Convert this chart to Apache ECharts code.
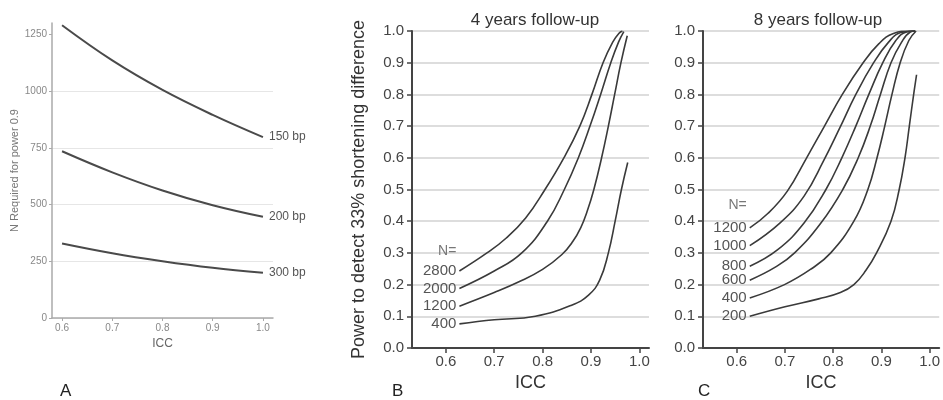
<!DOCTYPE html>
<html><head><meta charset="utf-8">
<script src="https://cdn.jsdelivr.net/npm/echarts@6/dist/echarts.min.js"></script>
<style>html,body{margin:0;padding:0;background:#fff}#c{width:943px;height:400px}</style>
</head><body><div id="c"></div>
<script>
const FONT = "'Liberation Sans', Arial, Helvetica, sans-serif";

// ---------- Panel A data ----------
const iccA = [0.6, 0.7, 0.8, 0.9, 1.0];
const nA150 = [1290, 1135, 1005, 895, 797];
const nA200 = [735, 642, 562, 497, 446];
const nA300 = [328, 285, 250, 221, 199];
const labelsA = ['150 bp', '200 bp', '300 bp'];
const yTicksA = [0, 250, 500, 750, 1000, 1250];
const xTicks = [0.6, 0.7, 0.8, 0.9, 1.0];

// ---------- Panel B data (4 years follow-up) : [ICC, power] ----------
const b2800 = [[0.628,0.243],[0.685,0.30],[0.725,0.347],[0.765,0.41],[0.805,0.50],[0.844,0.60],[0.877,0.70],[0.902,0.80],[0.925,0.90],[0.945,0.965],[0.958,0.993],[0.965,1.0]];
const b2000 = [[0.628,0.188],[0.7,0.243],[0.757,0.30],[0.81,0.40],[0.845,0.50],[0.874,0.60],[0.898,0.70],[0.92,0.80],[0.941,0.90],[0.957,0.965],[0.968,0.998]];
const b1200 = [[0.628,0.132],[0.7,0.175],[0.75,0.208],[0.8,0.248],[0.84,0.295],[0.862,0.335],[0.879,0.38],[0.893,0.435],[0.906,0.50],[0.922,0.60],[0.936,0.70],[0.949,0.80],[0.962,0.90],[0.975,0.985]];
const b400  = [[0.628,0.076],[0.7,0.089],[0.785,0.10],[0.86,0.135],[0.895,0.167],[0.918,0.214],[0.936,0.30],[0.95,0.40],[0.963,0.50],[0.976,0.585]];
const namesB = ['2800', '2000', '1200', '400'];

// ---------- Panel C data (8 years follow-up) ----------
const c1200 = [[0.627,0.379],[0.665,0.425],[0.705,0.495],[0.745,0.60],[0.782,0.70],[0.819,0.80],[0.86,0.895],[0.895,0.96],[0.925,0.992],[0.96,1.0],[0.97,1.0]];
const c1000 = [[0.627,0.323],[0.69,0.395],[0.74,0.48],[0.78,0.59],[0.814,0.695],[0.847,0.80],[0.884,0.90],[0.915,0.965],[0.94,0.995],[0.97,1.0]];
const c800  = [[0.627,0.258],[0.685,0.31],[0.74,0.395],[0.785,0.50],[0.818,0.60],[0.847,0.70],[0.874,0.80],[0.903,0.90],[0.93,0.97],[0.952,0.997],[0.97,1.0]];
const c600  = [[0.627,0.214],[0.68,0.255],[0.72,0.30],[0.775,0.395],[0.82,0.50],[0.852,0.60],[0.877,0.70],[0.898,0.80],[0.92,0.90],[0.942,0.965],[0.96,0.997],[0.97,1.0]];
const c400  = [[0.627,0.158],[0.699,0.20],[0.755,0.25],[0.795,0.30],[0.843,0.40],[0.872,0.50],[0.891,0.60],[0.907,0.70],[0.922,0.80],[0.939,0.90],[0.957,0.97],[0.972,1.0]];
const c200  = [[0.627,0.10],[0.7,0.13],[0.77,0.155],[0.815,0.175],[0.843,0.20],[0.868,0.245],[0.89,0.30],[0.92,0.40],[0.937,0.50],[0.949,0.60],[0.958,0.70],[0.967,0.80],[0.973,0.862]];
const namesC = ['1200', '1000', '800', '600', '400', '200'];

const titlesBC = ['4 years follow-up', '8 years follow-up'];
const panelLetters = ['A', 'B', 'C'];

// ---------- helpers ----------
function curveA(vals, name) {
  return {
    type: 'line', xAxisIndex: 0, yAxisIndex: 0, name: name,
    data: iccA.map((x, i) => [x, vals[i]]),
    smooth: 0.4, showSymbol: false, symbol: 'none',
    lineStyle: { color: '#4a4a4a', width: 2 },
    endLabel: { show: true, formatter: name, color: '#555', fontSize: 12, fontFamily: FONT, distance: 6 },
    silent: true
  };
}
function curveBC(pts, name, idx, first, lh) {
  const data = pts.map((p, i) => {
    if (i === 0) {
      return {
        value: p,
        label: {
          show: true, position: 'left', distance: 3,
          formatter: first ? '{n|N=}\n{v|' + name + '}' : '{v|' + name + '}',
          offset: first ? [0, -lh / 2] : [0, 0],
          align: 'right',
          rich: {
            n: { color: '#777', fontSize: 14, fontFamily: FONT, lineHeight: lh, align: 'right' },
            v: { color: '#555', fontSize: 15, fontFamily: FONT, lineHeight: lh, align: 'right' }
          }
        }
      };
    }
    return { value: p };
  });
  return {
    type: 'line', xAxisIndex: idx, yAxisIndex: idx, name: name,
    data: data, smooth: 0.45,
    symbol: 'circle', symbolSize: 0.1, showSymbol: true,
    label: { show: false },
    lineStyle: { color: '#3a3a3a', width: 1.6 },
    itemStyle: { color: 'rgba(0,0,0,0)' },
    silent: true
  };
}

const xAxisBC = (idx) => ({
  gridIndex: idx, type: 'value', min: 0.53, max: 1.02,
  axisLine: { show: true, onZero: false, lineStyle: { color: '#444', width: 2 } },
  axisTick: { show: true, customValues: xTicks, length: 5, lineStyle: { color: '#444', width: 1.5 } },
  axisLabel: { customValues: xTicks, formatter: v => v.toFixed(1), fontSize: 15, color: '#444', fontFamily: FONT, margin: 6 },
  splitLine: { show: false },
  name: 'ICC', nameLocation: 'middle', nameGap: 24,
  nameTextStyle: { fontSize: 18, color: '#333', fontFamily: FONT }
});
const yAxisBC = (idx, withName) => ({
  gridIndex: idx, type: 'value', min: 0, max: 1, interval: 0.1,
  axisLine: { show: true, lineStyle: { color: '#444', width: 2 } },
  axisTick: { show: true, length: 5, lineStyle: { color: '#444', width: 1.5 } },
  axisLabel: { formatter: v => v.toFixed(1), fontSize: 15, color: '#444', fontFamily: FONT, margin: 8 },
  splitLine: { show: true, lineStyle: { color: '#d2d2d2', width: 1.5 } },
  name: withName ? 'Power to detect 33% shortening difference' : '',
  nameLocation: 'middle', nameGap: 44,
  nameTextStyle: { fontSize: 18, color: '#333', fontFamily: FONT }
});

const option = {
  animation: false,
  backgroundColor: '#fff',
  textStyle: { fontFamily: FONT },
  title: [
    { text: titlesBC[0], left: 530, top: 7, textAlign: 'center', textStyle: { fontSize: 17, fontWeight: 'normal', color: '#333', fontFamily: FONT } },
    { text: titlesBC[1], left: 813, top: 7, textAlign: 'center', textStyle: { fontSize: 17, fontWeight: 'normal', color: '#333', fontFamily: FONT } },
    { text: panelLetters[0], left: 55, top: 378, textStyle: { fontSize: 17, fontWeight: 'normal', color: '#222', fontFamily: FONT } },
    { text: panelLetters[1], left: 387, top: 378, textStyle: { fontSize: 17, fontWeight: 'normal', color: '#222', fontFamily: FONT } },
    { text: panelLetters[2], left: 693, top: 378, textStyle: { fontSize: 17, fontWeight: 'normal', color: '#222', fontFamily: FONT } }
  ],
  grid: [
    { left: 52, top: 23, width: 221, height: 295 },
    { left: 412, top: 31, width: 237, height: 317 },
    { left: 703, top: 31, width: 239, height: 317 }
  ],
  xAxis: [
    {
      gridIndex: 0, type: 'value', min: 0.58, max: 1.02,
      axisLine: { show: true, onZero: false, lineStyle: { color: '#aaa', width: 1.5 } },
      axisTick: { show: true, customValues: xTicks, length: 3, lineStyle: { color: '#aaa' } },
      axisLabel: { customValues: xTicks, formatter: v => v.toFixed(1), fontSize: 10, color: '#888', fontFamily: FONT, margin: 5 },
      splitLine: { show: false },
      name: 'ICC', nameLocation: 'middle', nameGap: 18,
      nameTextStyle: { fontSize: 12, color: '#666', fontFamily: FONT }
    },
    xAxisBC(1), xAxisBC(2)
  ],
  yAxis: [
    {
      gridIndex: 0, type: 'value', min: 0, max: 1300, interval: 250,
      axisLine: { show: true, lineStyle: { color: '#aaa', width: 1.5 } },
      axisTick: { show: true, customValues: yTicksA, length: 3, lineStyle: { color: '#aaa' } },
      axisLabel: { customValues: yTicksA, formatter: v => String(v), fontSize: 10, color: '#888', fontFamily: FONT, margin: 5 },
      splitLine: { show: true, showMaxLine: false, lineStyle: { color: '#e6e6e6', width: 1 } },
      name: 'N Required for power 0.9', nameLocation: 'middle', nameGap: 30,
      nameTextStyle: { fontSize: 11, color: '#777', fontFamily: FONT }
    },
    yAxisBC(1, true), yAxisBC(2, false)
  ],
  series: [
    curveA(nA150, labelsA[0]),
    curveA(nA200, labelsA[1]),
    curveA(nA300, labelsA[2]),
    curveBC(b2800, namesB[0], 1, true, 20),
    curveBC(b2000, namesB[1], 1, false, 20),
    curveBC(b1200, namesB[2], 1, false, 20),
    curveBC(b400,  namesB[3], 1, false, 20),
    curveBC(c1200, namesC[0], 2, true, 23),
    curveBC(c1000, namesC[1], 2, false, 23),
    curveBC(c800,  namesC[2], 2, false, 23),
    curveBC(c600,  namesC[3], 2, false, 23),
    curveBC(c400,  namesC[4], 2, false, 23),
    curveBC(c200,  namesC[5], 2, false, 23)
  ]
};
const chart = echarts.init(document.getElementById('c'), null, { renderer: 'canvas' });
chart.setOption(option);
</script>
</body></html>
